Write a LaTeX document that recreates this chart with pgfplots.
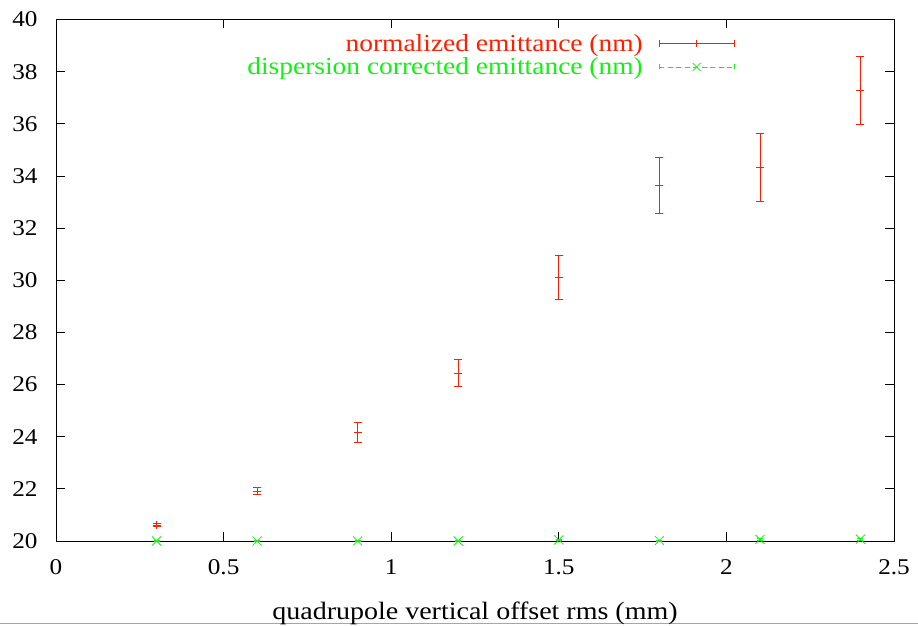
\documentclass[border=0pt]{standalone}
\usepackage{fontspec}
\setmainfont{Liberation Serif}[FakeStretch=1.12]
\usepackage{pgfplots}
\pgfplotsset{compat=1.18}
\definecolor{gred}{RGB}{255,30,0}
\definecolor{ggreen}{RGB}{20,240,20}
\begin{document}
\begin{tikzpicture}
\useasboundingbox (-56bp,-85bp) rectangle (862bp,541bp);
\draw[gray!70,line width=1bp] (-56bp,-82bp) -- (862bp,-82bp);
\begin{axis}[
  scale only axis, width=838bp, height=521.5bp,
  xmin=0, xmax=2.5, ymin=20, ymax=40,
  xtick={0,0.5,1,1.5,2,2.5}, ytick={20,22,...,40},
  tick align=inside, major tick length=9bp,
  axis line style={line width=0.8bp}, every tick/.style={black,line width=0.8bp},
  /pgf/number format/assume math mode=true,
  xticklabel={\pgfmathprintnumber[assume math mode=true]{\tick}},
  yticklabel={\pgfmathprintnumber[assume math mode=true]{\tick}},
  tick label style={font=\fontsize{22.5bp}{26bp}\selectfont},
  xticklabel style={yshift=-15bp},
  yticklabel style={xshift=-15bp},
  label style={font=\fontsize{25bp}{29bp}\selectfont},
  xlabel={quadrupole vertical offset rms (mm)},
  xlabel style={yshift=-20bp},
  legend plot pos=right, legend cell align=right,
  legend style={draw=none, fill=none, at={(0.810,0.974)}, anchor=north east,
    font=\fontsize{24.5bp}{28bp}\selectfont, inner sep=0pt,
    nodes={inner sep=1bp}, row sep=3bp, column sep=15bp},
]
\addplot[only marks, gred, mark=+, mark size=4bp, mark options={line width=0.8bp},
  error bars/.cd, y dir=both, y explicit,
  error bar style={gred, line width=0.8bp},
  error mark options={rotate=90, mark size=4bp, gred, line width=0.8bp},
  /pgfplots/legend image code/.code={
    \draw[gred,line width=0.8bp] (0bp,0bp) -- (75bp,0bp);
    \draw[gred,line width=0.8bp] (0bp,-3.5bp) -- (0bp,3.5bp) (75bp,-3.5bp) -- (75bp,3.5bp) (37.5bp,-3.5bp) -- (37.5bp,3.5bp);}]
  coordinates {
  (0.3,20.61) +- (0,0.05)
  (0.6,21.92) +- (0,0.13)
  (0.9,24.18) +- (0,0.38)
  (1.2,26.44) +- (0,0.53)
  (1.5,30.11) +- (0,0.84)
  (1.8,33.64) +- (0,1.07)
  (2.1,34.33) +- (0,1.30)
  (2.4,37.28) +- (0,1.32)
  };
\addlegendentry{\textcolor{gred}{normalized emittance (nm)}}
\addplot[only marks, ggreen, mark=x, mark size=6.4bp, mark options={line width=0.8bp},
  error bars/.cd, y dir=both, y explicit,
  error bar style={ggreen, line width=0.8bp},
  error mark options={rotate=90, mark size=3bp, ggreen, line width=0.8bp},
  /pgfplots/legend image code/.code={
    \draw[ggreen,line width=0.8bp,dash pattern=on 5bp off 3.5bp] (0bp,0bp) -- (75bp,0bp);
    \draw[ggreen,line width=0.8bp] (0bp,-2.5bp) -- (0bp,2.5bp) (75bp,-2.5bp) -- (75bp,2.5bp);
    \draw[ggreen,line width=0.8bp] (33.5bp,-4bp) -- (41.5bp,4bp) (33.5bp,4bp) -- (41.5bp,-4bp);}]
  coordinates {
  (0.3,20.0) +- (0,0.02)
  (0.6,20.0) +- (0,0.02)
  (0.9,20.0) +- (0,0.02)
  (1.2,20.0) +- (0,0.02)
  (1.5,20.04) +- (0,0.03)
  (1.8,20.02) +- (0,0.02)
  (2.1,20.06) +- (0,0.03)
  (2.4,20.07) +- (0,0.03)
  };
\addlegendentry{\textcolor{ggreen}{dispersion corrected emittance (nm)}}
\end{axis}
\end{tikzpicture}
\end{document}
